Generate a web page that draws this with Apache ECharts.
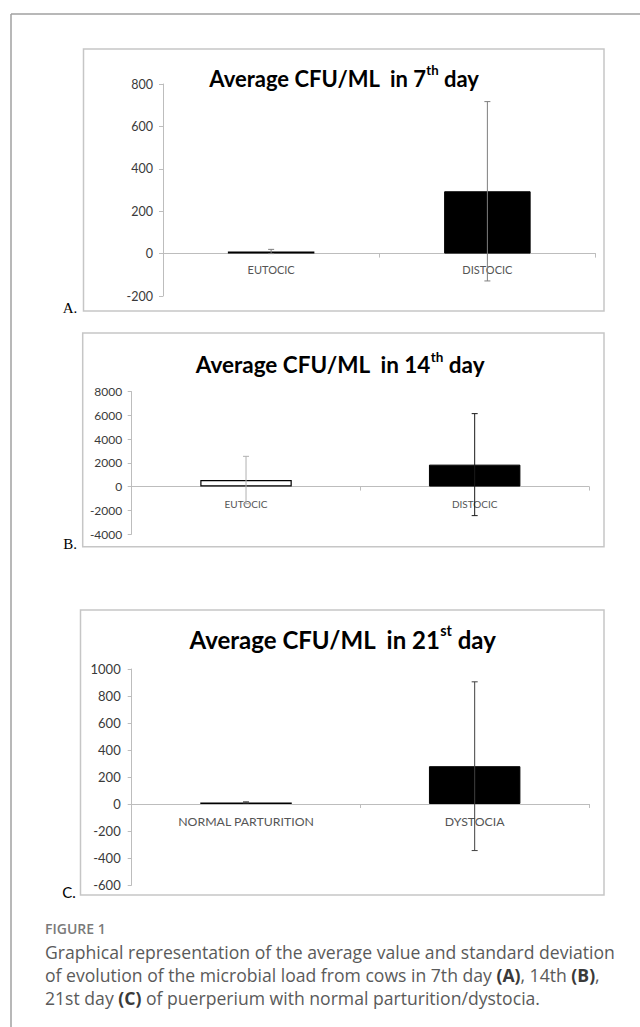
<!DOCTYPE html>
<html>
<head>
<meta charset="utf-8">
<style>
html,body{margin:0;padding:0;background:#fff;}
#chart{width:640px;height:1027px;}
</style>
<script src="https://cdn.jsdelivr.net/npm/echarts@6/dist/echarts.min.js"></script>
</head>
<body>
<div id="chart"></div>
<script>
// ---- data ----
const categoriesA = ['EUTOCIC', 'DISTOCIC'];
const meansA = [10, 294];
const sdA = [10, 423];
const ticksA = { min: -200, max: 800, interval: 200 };

const categoriesB = ['EUTOCIC', 'DISTOCIC'];
const meansB = [550, 1850];
const sdB = [2000, 4300];
const ticksB = { min: -4000, max: 8000, interval: 2000 };

const categoriesC = ['NORMAL PARTURITION', 'DYSTOCIA'];
const meansC = [12, 280];
const sdC = [4, 625];
const ticksC = { min: -600, max: 1000, interval: 200 };

const titleA = ['Average CFU/ML  in 7', 'th', ' day'];
const titleB = ['Average CFU/ML  in 14', 'th', ' day'];
const titleC = ['Average CFU/ML  in 21', 'st', ' day'];
const panelLabels = ['A.', 'B.', 'C.'];
const captionHead = 'FIGURE 1';
const captionLines = [
  'Graphical representation of the average value and standard deviation',
  'of evolution of the microbial load from cows in 7th day {b|(A)}, 14th {b|(B)},',
  '21st day {b|(C)} of puerperium with normal parturition/dystocia.'
];

// ---- styles ----
const FONT = 'Lato, "Open Sans", sans-serif';
const barStyles = [
  { color: '#ffffff', borderColor: '#000000', borderWidth: 1.2 },
  { color: '#000000', borderColor: '#000000', borderWidth: 1 }
];
const errColors = [
  ['#7f7f7f', '#7f7f7f'],
  ['#b0b0b0', '#1a1a1a'],
  ['#404040', '#404040']
];
const grids = [
  { left: 163, top: 84, width: 432.5, height: 212 },
  { left: 131.7, top: 391.7, width: 457.3, height: 142.3 },
  { left: 131.7, top: 669, width: 457.3, height: 216 }
];
const yLabelSize = [12.5, 12, 13];
const xLabelSize = [11, 10, 12.3];
const yLabelMargin = [10, 9.5, 11];
const xLabelMargin = [10, 12, 11];

const panels = [
  { cats: categoriesA, means: meansA, sd: sdA, ticks: ticksA },
  { cats: categoriesB, means: meansB, sd: sdB, ticks: ticksB },
  { cats: categoriesC, means: meansC, sd: sdC, ticks: ticksC }
];

const xAxis = [], yAxis = [], series = [];
panels.forEach((p, i) => {
  const g = grids[i];
  // distance from grid bottom up to the zero line, from the axis range
  const zeroOffset = -g.height * (0 - p.ticks.min) / (p.ticks.max - p.ticks.min);
  xAxis.push({
    type: 'category', gridIndex: i, data: p.cats, position: 'bottom',
    offset: zeroOffset,
    axisLine: { onZero: false, lineStyle: { color: '#bdbdbd', width: 1 } },
    axisTick: { show: true, length: 4, lineStyle: { color: '#bdbdbd' } },
    axisLabel: { color: '#555', fontSize: xLabelSize[i], fontFamily: FONT, margin: xLabelMargin[i] },
    splitLine: { show: false }
  });
  yAxis.push({
    type: 'value', gridIndex: i,
    min: p.ticks.min, max: p.ticks.max, interval: p.ticks.interval,
    axisLine: { show: true, lineStyle: { color: '#bdbdbd', width: 1 } },
    axisTick: { show: true, length: 4, lineStyle: { color: '#bdbdbd' } },
    axisLabel: { color: '#3a3a3a', fontSize: yLabelSize[i], fontFamily: FONT, margin: yLabelMargin[i],
      formatter: v => String(v) },
    splitLine: { show: false }
  });
  series.push({
    type: 'bar', xAxisIndex: i, yAxisIndex: i, barWidth: '40%',
    data: p.means.map((v, k) => ({ value: v, itemStyle: barStyles[k] })),
    silent: true, z: 2
  });
  series.push({
    type: 'custom', xAxisIndex: i, yAxisIndex: i, z: 5, silent: true,
    data: p.means.map((v, k) => [k, v + p.sd[k], v - p.sd[k]]),
    renderItem: function (params, api) {
      const k = api.value(0);
      const hi = api.coord([k, api.value(1)]);
      const lo = api.coord([k, api.value(2)]);
      const col = errColors[i][k];
      const hw = 3;
      const st = { stroke: col, lineWidth: 1 };
      return {
        type: 'group', children: [
          { type: 'line', shape: { x1: hi[0], y1: hi[1], x2: lo[0], y2: lo[1] }, style: st },
          { type: 'line', shape: { x1: hi[0] - hw, y1: hi[1], x2: hi[0] + hw, y2: hi[1] }, style: st },
          { type: 'line', shape: { x1: lo[0] - hw, y1: lo[1], x2: lo[0] + hw, y2: lo[1] }, style: st }
        ]
      };
    }
  });
});

function titleText(parts, x, y, size) {
  return {
    type: 'text', x: x, y: y, z: 10,
    style: {
      text: '{m|' + parts[0] + '}{s|' + parts[1] + '}{m|' + parts[2] + '}',
      align: 'center', verticalAlign: 'middle',
      rich: {
        m: { fontFamily: FONT, fontWeight: 'bold', fontSize: size, fill: '#000', lineHeight: size * 1.2, verticalAlign: 'bottom' },
        s: { fontFamily: FONT, fontWeight: 'bold', fontSize: size * 0.6, fill: '#000', lineHeight: size * 1.2, verticalAlign: 'top', padding: [1, 0, 0, 0] }
      }
    }
  };
}

const frameStyle = { fill: 'none', stroke: '#c6c6c6', lineWidth: 1.5 };
const graphic = [
  { type: 'line', shape: { x1: 11, y1: 14, x2: 640, y2: 14 }, style: { stroke: '#a0a0a0', lineWidth: 1.5 } },
  { type: 'line', shape: { x1: 11, y1: 14, x2: 11, y2: 1027 }, style: { stroke: '#a0a0a0', lineWidth: 1.5 } },
  { type: 'rect', shape: { x: 83.5, y: 49, width: 520.5, height: 262 }, style: frameStyle, z: 0 },
  { type: 'rect', shape: { x: 82.7, y: 333, width: 521.3, height: 213.7 }, style: frameStyle, z: 0 },
  { type: 'rect', shape: { x: 80.5, y: 610, width: 523.5, height: 285 }, style: frameStyle, z: 0 },
  titleText(titleA, 344, 76, 22),
  titleText(titleB, 340, 362, 22.5),
  titleText(titleC, 342.5, 637, 24),
  { type: 'text', x: 70, y: 308, style: { text: panelLabels[0], fontFamily: '"Liberation Serif", serif', fontSize: 15, fill: '#000', align: 'center', verticalAlign: 'middle' } },
  { type: 'text', x: 70, y: 544, style: { text: panelLabels[1], fontFamily: '"Liberation Serif", serif', fontSize: 15, fill: '#000', align: 'center', verticalAlign: 'middle' } },
  { type: 'text', x: 69, y: 892, style: { text: panelLabels[2], fontFamily: FONT, fontSize: 15, fill: '#000', align: 'center', verticalAlign: 'middle' } },
  { type: 'text', x: 45, y: 928, style: { text: captionHead, fontFamily: '"Open Sans", sans-serif', fontWeight: 600, fontSize: 14, fill: '#7a7a7a', align: 'left', verticalAlign: 'middle' } }
];
captionLines.forEach((t, j) => {
  graphic.push({
    type: 'text', x: 45, y: 951.7 + j * 23.3,
    style: {
      text: t, fontFamily: '"Open Sans", sans-serif', fontSize: 17.6, fill: '#5a5a5a',
      align: 'left', verticalAlign: 'middle',
      rich: { b: { fontFamily: '"Open Sans", sans-serif', fontSize: 17.6, fontWeight: 'bold', fill: '#3a3a3a' } }
    }
  });
});

const chart = echarts.init(document.getElementById('chart'), null, { renderer: 'svg', width: 640, height: 1027 });
chart.setOption({
  animation: false,
  backgroundColor: '#ffffff',
  grid: grids.map(g => Object.assign({ containLabel: false }, g)),
  xAxis: xAxis,
  yAxis: yAxis,
  series: series,
  graphic: graphic
});
</script>
</body>
</html>
